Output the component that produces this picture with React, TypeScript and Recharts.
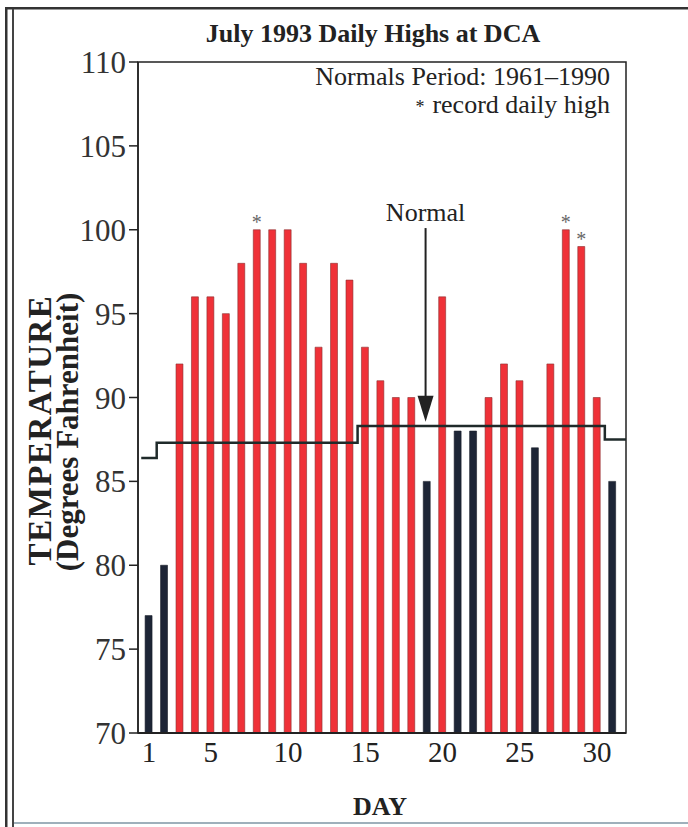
import React from 'react';
import {
  ComposedChart,
  Bar,
  Line,
  XAxis,
  YAxis,
  Cell,
  LabelList,
  ReferenceLine,
  ReferenceArea,
} from 'recharts';

const days = [1, 2, 3, 4, 5, 6, 7, 8, 9, 10, 11, 12, 13, 14, 15, 16, 17, 18, 19, 20, 21, 22, 23, 24, 25, 26, 27, 28, 29, 30, 31];
const highs = [77, 80, 92, 96, 96, 95, 98, 100, 100, 100, 98, 93, 98, 97, 93, 91, 90, 90, 85, 96, 88, 88, 90, 92, 91, 87, 92, 100, 99, 90, 85];
const recordDays = [8, 28, 29];
const normalEdges = [0.5, 1.5, 14.5, 30.5, 31.87];
const normalValues = [86.4, 87.3, 88.3, 87.5, 87.5];
const yTicks = [70, 75, 80, 85, 90, 95, 100, 105, 110];
const xTicks = [1, 5, 10, 15, 20, 25, 30];
const xDomain = [0.29, 31.87];
const yDomain = [70, 110];
const arrowX = 18.9;
const arrowTop = 100.1;
const arrowTip = 88.55;

const normalFor = (d: number) => {
  let v = normalValues[0];
  normalEdges.forEach((x, i) => {
    if (d >= x) v = normalValues[i];
  });
  return v;
};

const barData = days.map((d, i) => ({
  day: d,
  high: highs[i],
  star: recordDays.includes(d) ? '*' : '',
}));
const normalData = normalEdges.map((x, i) => ({ day: x, normal: normalValues[i] }));

const RED = '#ef3138';
const DARK = '#1d2536';
const SERIF = '"Liberation Serif", "Times New Roman", serif';

const ArrowShape = (props: any) => {
  const x1 = props.x1 ?? props.x;
  const y1 = props.y1;
  const y2 = props.y2;
  if (x1 == null || y1 == null || y2 == null) return null;
  const top = Math.min(y1, y2);
  const tip = Math.max(y1, y2);
  const x = x1;
  return (
    <g>
      <line x1={x} y1={top} x2={x} y2={tip - 20} stroke="#222" strokeWidth={2} />
      <polygon points={`${x - 8},${tip - 26} ${x + 8},${tip - 26} ${x},${tip}`} fill="#222" />
      <text x={x} y={top - 7} textAnchor="middle" fontFamily={SERIF} fontSize={26} fill="#222">
        Normal
      </text>
    </g>
  );
};

export default function App() {
  return (
    <div style={{ position: 'absolute', left: 0, top: 0, width: 688, height: 827, background: '#fff' }}>
      <ComposedChart
        width={688}
        height={827}
        data={barData}
        margin={{ top: 62, right: 62, left: 68, bottom: 0 }}
      >
        <rect x={5} y={7} width={683} height={2.5} fill="#333" />
        <rect x={5} y={7} width={2.5} height={820} fill="#333" />
        <rect x={12} y={9} width={2} height={818} fill="#444" />
        <rect x={14} y={822} width={674} height={2} fill="#9fb0bb" />
        <text x={373} y={42} textAnchor="middle" fontFamily={SERIF} fontWeight="bold" fontSize={26} fill="#222">
          July 1993 Daily Highs at DCA
        </text>
        <text x={610} y={85} textAnchor="end" fontFamily={SERIF} fontSize={26} fill="#222">
          Normals Period: 1961–1990
        </text>
        <text x={610} y={113} textAnchor="end" fontFamily={SERIF} fontSize={26} fill="#222">
          <tspan fontSize={18} dy={0}>*</tspan>
          <tspan dx={8}>record daily high</tspan>
        </text>
        <text
          x={51}
          y={430}
          transform="rotate(-90, 51, 430)"
          textAnchor="middle"
          fontFamily={SERIF}
          fontWeight="bold"
          fontSize={33}
          letterSpacing={1.5}
          fill="#222"
        >
          TEMPERATURE
        </text>
        <text
          x={78}
          y={432}
          transform="rotate(-90, 78, 432)"
          textAnchor="middle"
          fontFamily={SERIF}
          fontWeight="bold"
          fontSize={31}
          fill="#222"
        >
          (Degrees Fahrenheit)
        </text>
        <text x={380} y={815} textAnchor="middle" fontFamily={SERIF} fontWeight="bold" fontSize={26} fill="#222">
          DAY
        </text>
        <XAxis
          dataKey="day"
          type="number"
          domain={xDomain}
          allowDataOverflow
          ticks={xTicks}
          tickLine={false}
          tickSize={0}
          tickMargin={8}
          height={94}
          axisLine={{ stroke: '#222', strokeWidth: 2 }}
          tick={{ fontFamily: SERIF, fontSize: 29, fill: '#222' }}
          interval={0}
        />
        <YAxis
          type="number"
          domain={yDomain}
          allowDataOverflow
          ticks={yTicks}
          width={70}
          tickSize={9}
          tickMargin={3}
          axisLine={{ stroke: '#222', strokeWidth: 1.5 }}
          tickLine={{ stroke: '#222', strokeWidth: 1.5 }}
          tick={{ fontFamily: SERIF, fontSize: 31, fill: '#333' }}
          interval={0}
        />
        <ReferenceArea
          x1={xDomain[0]}
          x2={xDomain[1]}
          y1={yDomain[0]}
          y2={yDomain[1]}
          fill="none"
          fillOpacity={0}
          stroke="#222"
          strokeWidth={1.5}
        />
        <Bar dataKey="high" barSize={9} isAnimationActive={false} stroke="#7a2a2a" strokeWidth={0.6}>
          {barData.map((d) => (
            <Cell
              key={d.day}
              fill={d.high < normalFor(d.day) ? DARK : RED}
              stroke={d.high < normalFor(d.day) ? '#1a1f2a' : '#8a2f2f'}
            />
          ))}
          <LabelList
            dataKey="star"
            position="top"
            offset={1}
            style={{ fontFamily: SERIF, fontSize: 20, fill: '#666' }}
          />
        </Bar>
        <Line
          data={normalData}
          dataKey="normal"
          type="stepAfter"
          stroke="#1f2a2a"
          strokeWidth={2.5}
          dot={false}
          activeDot={false}
          isAnimationActive={false}
        />
        <ReferenceLine
          segment={[
            { x: arrowX, y: arrowTop },
            { x: arrowX, y: arrowTip },
          ]}
          stroke="#222"
          shape={ArrowShape}
        />
      </ComposedChart>
    </div>
  );
}
